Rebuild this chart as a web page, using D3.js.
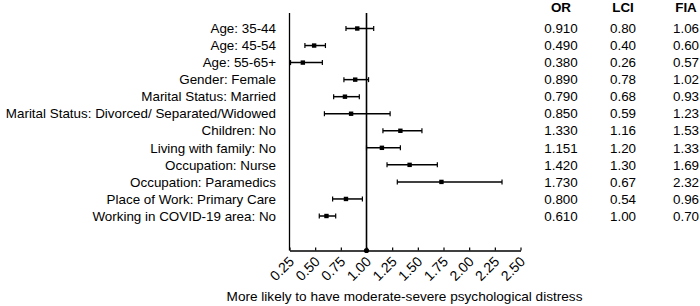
<!DOCTYPE html>
<html><head><meta charset="utf-8">
<script src="https://cdn.jsdelivr.net/npm/d3@7/dist/d3.min.js"></script>
<style>body{margin:0;background:#fff}svg{display:block}text{font-family:"Liberation Sans",Arial,sans-serif}</style>
</head><body><svg id="c" width="700" height="306"></svg>
<script>
const categories = ["Age: 35-44","Age: 45-54","Age: 55-65+","Gender: Female","Marital Status: Married","Marital Status: Divorced/ Separated/Widowed","Children: No","Living with family: No","Occupation: Nurse","Occupation: Paramedics","Place of Work: Primary Care","Working in COVID-19 area: No"];
const orPlot = [0.91,0.49,0.38,0.89,0.79,0.85,1.33,1.15,1.42,1.73,0.80,0.61];
const lowPlot = [0.80,0.40,0.26,0.78,0.68,0.59,1.16,1.00,1.20,1.30,0.67,0.54];
const highPlot = [1.07,0.60,0.57,1.02,0.93,1.23,1.54,1.33,1.69,2.32,0.96,0.70];
const orText = ["0.910","0.490","0.380","0.890","0.790","0.850","1.330","1.151","1.420","1.730","0.800","0.610"];
const lciText = ["0.80","0.40","0.26","0.78","0.68","0.59","1.16","1.20","1.30","0.67","0.54","1.00"];
const fiaText = ["1.06","0.60","0.57","1.02","0.93","1.23","1.53","1.33","1.69","2.32","0.96","0.70"];
const tableHeaders = ["OR","LCI","FIA"];
const tickValues = [0.25,0.50,0.75,1.00,1.25,1.50,1.75,2.00,2.25,2.50];
const xTitle = "More likely to have moderate-severe psychological distress";

const svg = d3.select("#c");
const x = d3.scaleLinear().domain([0.25,2.50]).range([289.5,520.5]);
const y = d3.scalePoint().domain(categories).range([28.5,216]);
const axisY = 250.5, topY = 13;
const FS = 13.4;

svg.append("line").attr("x1",x(0.25)).attr("x2",x(0.25)).attr("y1",topY).attr("y2",axisY).attr("stroke","#000").attr("stroke-width",1.3);
svg.append("line").attr("x1",x(1)).attr("x2",x(1)).attr("y1",topY).attr("y2",axisY).attr("stroke","#000").attr("stroke-width",1.6);

const ax = svg.append("g").attr("transform",`translate(0,${axisY})`)
  .call(d3.axisBottom(x).tickValues(tickValues).tickSizeInner(-3).tickSizeOuter(0).tickFormat(d3.format(".2f")));
ax.select(".domain").attr("stroke","#000").attr("stroke-width",1.3);
ax.selectAll(".tick line").attr("stroke","#000").attr("stroke-width",1.2);
ax.selectAll(".tick text").attr("font-size",14).attr("fill","#000").attr("text-anchor","end")
  .attr("dy",0).attr("y",0)
  .attr("transform","translate(5,12) rotate(-45)");
svg.append("circle").attr("cx",x(1)).attr("cy",axisY).attr("r",2.6).attr("fill","#000");

svg.append("g").selectAll("text").data(categories).join("text")
  .attr("x",276).attr("y",d=>y(d)).attr("dy","0.35em").attr("text-anchor","end")
  .attr("font-size",FS).attr("fill","#000").text(d=>d);

const g = svg.append("g");
categories.forEach((c,i)=>{
  const yy = y(c);
  g.append("line").attr("x1",x(lowPlot[i])).attr("x2",x(highPlot[i])).attr("y1",yy).attr("y2",yy).attr("stroke","#000").attr("stroke-width",1.5);
  [lowPlot[i],highPlot[i]].forEach(v=>g.append("line").attr("x1",x(v)).attr("x2",x(v)).attr("y1",yy-2.5).attr("y2",yy+2.5).attr("stroke","#000").attr("stroke-width",1.2));
  g.append("rect").attr("x",x(orPlot[i])-2.2).attr("y",yy-2.2).attr("width",4.4).attr("height",4.4).attr("fill","#000");
});

const cols = [561,623,686];
const colData = [orText,lciText,fiaText];
tableHeaders.forEach((h,j)=>{
  svg.append("text").attr("x",cols[j]).attr("y",12).attr("text-anchor","middle").attr("font-size",FS).attr("font-weight","bold").attr("fill","#000").text(h);
  svg.append("g").selectAll("text").data(colData[j]).join("text")
    .attr("x",cols[j]).attr("y",(d,i)=>y(categories[i])).attr("dy","0.35em").attr("text-anchor","middle")
    .attr("font-size",FS).attr("fill","#000").text(d=>d);
});

svg.append("text").attr("x",404.5).attr("y",300.5).attr("text-anchor","middle").attr("font-size",13.6).attr("fill","#000").text(xTitle);
</script></body></html>
